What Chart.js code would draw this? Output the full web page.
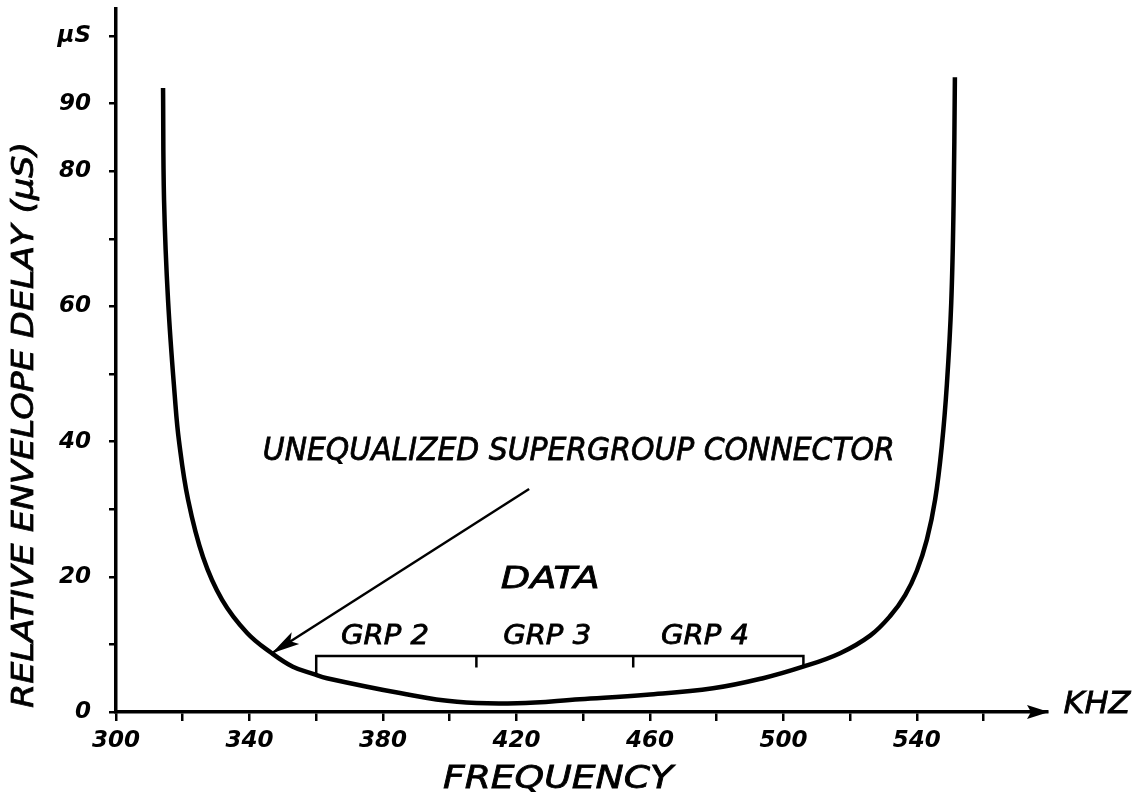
<!DOCTYPE html>
<html>
<head>
<meta charset="utf-8">
<script src="https://cdn.jsdelivr.net/npm/chart.js@4.4.1/dist/chart.umd.min.js"></script>
<style>
  html, body { margin: 0; padding: 0; background: #fff; }
  canvas { display: block; }
</style>
</head>
<body>
<canvas id="delay-chart" width="1144" height="804"></canvas>
<script>
// ── DATA ─────────────────────────────────────────────────────
// relative envelope delay (µs) vs frequency (kHz)
const freq  = [314.1, 314.4, 315.6, 317.7, 318.9, 321.6, 326.1, 331.8, 339.3, 346.7, 353.0, 359.3, 363.2,
               385.1, 402.2, 420.2, 439.0, 459.1, 478.9, 493.9, 505.9, 517.0, 526.0, 532.0, 536.5,
               540.0, 543.0, 545.5, 547.5, 549.0, 550.3, 551.0, 551.4];
const delay = [92.3, 75.7, 60.9, 46.2, 40.0, 31.4, 22.9, 16.6, 11.7, 8.7, 6.7, 5.6, 5.0,
               2.8, 1.5, 1.3, 1.9, 2.55, 3.5, 5.0, 6.7, 8.7, 11.3, 14.2, 17.3,
               20.9, 25.5, 31.5, 39.5, 48.5, 60.5, 75.0, 93.9];

// "DATA" bracket spanning groups 2..4
const bracketX = [360, 360, 506, 506];
const bracketY = [5.6, 8.3, 8.3, 6.7];
const dividerX = [408, 455];
const dividerY = [8.3, 6.6];
const groupLabels = ['GRP 2', 'GRP 3', 'GRP 4'];
const groupCenters = [380.6, 429.2, 476.5];

// callout arrow: from label to curve
const arrowX = [423.8, 346.7];
const arrowY = [33.0, 8.7];

// axes
const xTicks = [300, 320, 340, 360, 380, 400, 420, 440, 460, 480, 500, 520, 540, 560];
const xTickLabels = { 300: '300', 340: '340', 380: '380', 420: '420', 460: '460', 500: '500', 540: '540' };
const yTicks = [0, 10, 20, 30, 40, 50, 60, 70, 80, 90, 100];
const yTickLabels = { 0: '0', 20: '20', 40: '40', 60: '60', 80: '80', 90: '90', 100: 'µS' };

const toPts = (xs, ys) => xs.map((x, i) => ({ x, y: ys[i] }));

// ── HAND-LETTERING HELPERS ───────────────────────────────────

function fitText(ctx, text, cx, cy, size, width, rot) {
  ctx.save();
  ctx.font = `italic normal ${size}px "DejaVu Sans"`;
  const w = ctx.measureText(text).width;
  ctx.translate(cx, cy);
  if (rot) ctx.rotate(rot);
  ctx.scale(width / w, 1);
  ctx.textAlign = 'center';
  ctx.textBaseline = 'middle';
  ctx.fillStyle = '#000';
  ctx.strokeStyle = '#000';
  ctx.lineWidth = 0.8;
  ctx.fillText(text, 0, 0);
  ctx.strokeText(text, 0, 0);
  ctx.restore();
}

const sketchPlugin = {
  id: 'sketch',
  afterDraw(chart) {
    const { ctx, chartArea: a, scales: { x, y } } = chart;

    // x-axis arrow head
    ctx.save();
    ctx.fillStyle = '#000';
    ctx.beginPath();
    ctx.moveTo(a.right + 2, a.bottom);
    ctx.lineTo(a.right - 20, a.bottom - 7);
    ctx.lineTo(a.right - 16, a.bottom);
    ctx.lineTo(a.right - 20, a.bottom + 7);
    ctx.closePath();
    ctx.fill();

    // callout arrow head
    const tx = x.getPixelForValue(arrowX[1]), ty = y.getPixelForValue(arrowY[1]);
    const fx = x.getPixelForValue(arrowX[0]), fy = y.getPixelForValue(arrowY[0]);
    const ang = Math.atan2(ty - fy, tx - fx);
    ctx.translate(tx, ty);
    ctx.rotate(ang);
    ctx.beginPath();
    ctx.moveTo(0, 0);
    ctx.lineTo(-28, -7);
    ctx.lineTo(-22, 0);
    ctx.lineTo(-28, 7);
    ctx.closePath();
    ctx.fill();
    ctx.restore();

    // texts
    fitText(ctx, 'UNEQUALIZED SUPERGROUP CONNECTOR', x.getPixelForValue(438.7), y.getPixelForValue(38.5), 32, 632);
    fitText(ctx, 'DATA', x.getPixelForValue(430.1), y.getPixelForValue(19.5), 31, 99);
    groupLabels.forEach((g, i) => {
      fitText(ctx, g, x.getPixelForValue(groupCenters[i]), y.getPixelForValue(11.1), 26, 88);
    });
    fitText(ctx, 'FREQUENCY', 558, 780, 32, 230);
    fitText(ctx, 'KHZ', 1097, 705, 31, 67);
    fitText(ctx, 'RELATIVE ENVELOPE DELAY (µS)', 25, 425, 31, 566, -Math.PI / 2);
  }
};

// ── CHART ────────────────────────────────────────────────────

const tickFont = { family: 'DejaVu Sans', size: 23, style: 'italic', weight: 'bold' };

new Chart(document.getElementById('delay-chart'), {
  type: 'scatter',
  data: {
    datasets: [
      {
        data: toPts(freq, delay),
        showLine: true,
        borderColor: '#000',
        borderWidth: 4.5,
        pointRadius: 0,
        tension: 0.4,
      },
      {
        data: toPts(bracketX, bracketY),
        showLine: true,
        borderColor: '#000',
        borderWidth: 2.5,
        pointRadius: 0,
      },
      ...dividerX.map(dx => ({
        data: toPts([dx, dx], dividerY),
        showLine: true,
        borderColor: '#000',
        borderWidth: 2.5,
        pointRadius: 0,
      })),
      {
        data: toPts(arrowX, arrowY),
        showLine: true,
        borderColor: '#000',
        borderWidth: 2.5,
        pointRadius: 0,
      },
    ],
  },
  options: {
    responsive: false,
    devicePixelRatio: 1,
    animation: false,
    layout: { padding: { top: 9, right: 97, left: 0, bottom: 0 } },
    plugins: { legend: { display: false }, tooltip: { enabled: false } },
    scales: {
      x: {
        type: 'linear',
        min: 300,
        max: 579,
        afterFit: (s) => { s.height = 92; s.paddingLeft = 0; s.paddingRight = 0; },
        afterBuildTicks: (s) => { s.ticks = xTicks.map(v => ({ value: v })); },
        border: { display: true, color: '#000', width: 3.5 },
        grid: { drawOnChartArea: false, color: '#000', lineWidth: 2.5, tickLength: 9 },
        ticks: {
          autoSkip: false,
          maxRotation: 0,
          padding: 6,
          color: '#000',
          font: tickFont,
          callback: (v) => xTickLabels[v] || '',
        },
      },
      y: {
        type: 'linear',
        min: 0,
        max: 104,
        afterFit: (s) => { s.width = 116; s.paddingTop = 0; s.paddingBottom = 0; },
        afterBuildTicks: (s) => { s.ticks = yTicks.map(v => ({ value: v })); },
        border: { display: true, color: '#000', width: 3.5 },
        grid: { drawOnChartArea: false, color: '#000', lineWidth: 2.5, tickLength: 7 },
        ticks: {
          autoSkip: false,
          padding: 18,
          color: '#000',
          font: tickFont,
          callback: (v) => yTickLabels[v] || '',
        },
      },
    },
  },
  plugins: [sketchPlugin],
});
</script>
</body>
</html>
